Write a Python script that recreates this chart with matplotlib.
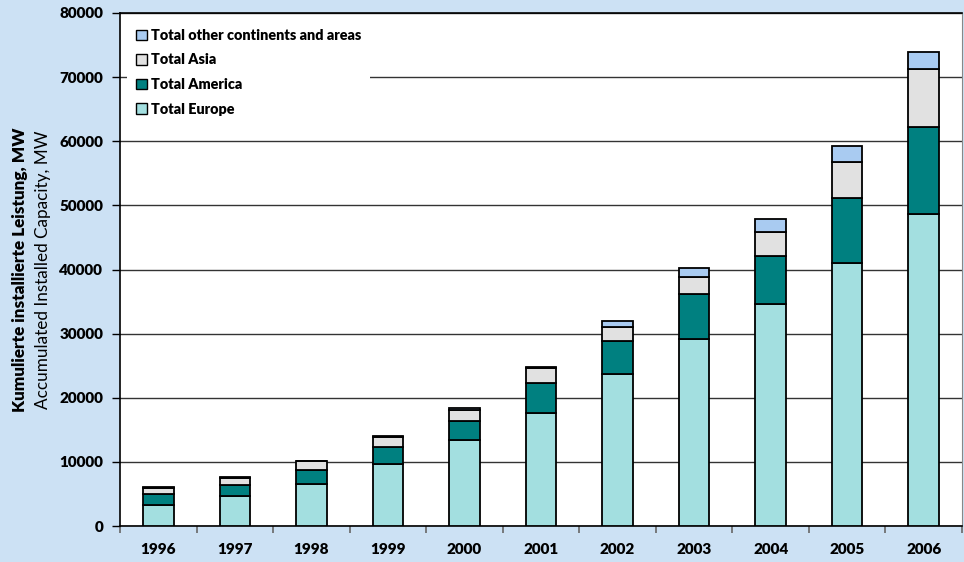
import numpy as np
import matplotlib
matplotlib.use("Agg")
from matplotlib import pyplot as plt

# data (MW)
years = ["1996", "1997", "1998", "1999", "2000", "2001", "2002", "2003", "2004", "2005", "2006"]
europe = [3340, 4690, 6510, 9690, 13480, 17660, 23750, 29220, 34690, 41030, 48640]
america = [1720, 1670, 2300, 2650, 2970, 4680, 5150, 6970, 7390, 10110, 13640]
asia = [840, 1090, 1250, 1470, 1670, 2240, 2190, 2710, 3800, 5630, 8970]
other = [200, 150, 90, 160, 255, 260, 880, 1410, 2030, 2540, 2740]

series_names = ["Total Europe", "Total America", "Total Asia", "Total other continents and areas"]
series_colors = ["#A3DFE0", "#008080", "#E1E1E1", "#A9CBF1"]

plt.rcParams['font.family'] = ['Lato', 'DejaVu Sans']

bg = "#CCE1F4"
fig = plt.figure(figsize=(9.64, 5.62), dpi=100, facecolor=bg)
ax = fig.add_axes([120 / 964, 1 - 526 / 562, 842 / 964, 513 / 562])
ax.set_facecolor("white")

x = np.arange(len(years))
bottom = np.zeros(len(years))
handles = []
for vals, name, col in zip([europe, america, asia, other], series_names, series_colors):
    b = ax.bar(x, vals, width=0.4, bottom=bottom, color=col, edgecolor="black",
               linewidth=1.3, label=name, zorder=3)
    handles.append(b)
    bottom += np.array(vals)

ax.set_xlim(-0.5, len(years) - 0.5)
ax.set_ylim(0, 80000)
ax.set_yticks(np.arange(0, 80001, 10000))
ax.yaxis.grid(True, color="#333333", linewidth=1.0, zorder=0)
ax.set_axisbelow(True)

# category ticks sit between the bars
ax.set_xticks(np.arange(-0.5, len(years), 1.0))
ax.set_xticklabels([])
ax.set_xticks(x, minor=True)
ax.set_xticklabels(years, minor=True, fontweight="heavy", fontsize=11)
ax.tick_params(axis="x", which="major", length=5, width=1.2, color="#666666", direction="out")
ax.tick_params(axis="x", which="minor", length=0, pad=12)
ax.tick_params(axis="y", length=6, width=1.0, direction="out", labelsize=11, pad=6)
for lab in ax.get_yticklabels():
    lab.set_fontweight("heavy")

for s in ["left", "bottom", "top"]:
    ax.spines[s].set_color("black")
    ax.spines[s].set_linewidth(1.2)
ax.spines["right"].set_color("#888888")

fig.text(20 / 964, 1 - 270 / 562, "Kumulierte installierte Leistung, MW", rotation=90,
         ha="center", va="center", fontsize=12.3, fontweight="heavy")
fig.text(43 / 964, 1 - 270 / 562, "Accumulated Installed Capacity, MW", rotation=90,
         ha="center", va="center", fontsize=12.3)

leg = ax.legend(handles[::-1], series_names[::-1], loc="upper left",
                bbox_to_anchor=(0.0, 1.0), frameon=True, fancybox=False,
                facecolor="white", edgecolor="none", framealpha=1.0,
                prop={"weight": "heavy", "size": 10.4}, handlelength=0.75,
                handleheight=0.75, handletextpad=0.3, labelspacing=0.8,
                borderaxespad=0.5, borderpad=0.6)
leg.set_zorder(5)
for h in leg.legend_handles:
    h.set_linewidth(1.0)

fig.savefig("out.png", dpi=100, facecolor=bg)
